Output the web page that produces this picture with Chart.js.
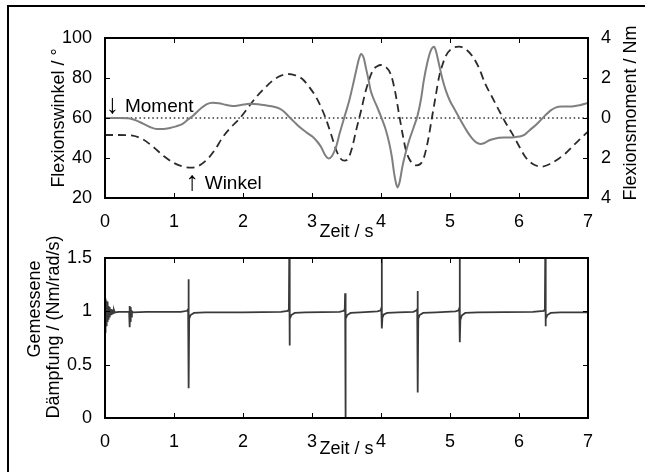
<!DOCTYPE html>
<html>
<head>
<meta charset="utf-8">
<script src="https://cdn.jsdelivr.net/npm/chart.js@4.4.1/dist/chart.umd.min.js"></script>
<style>
  html, body { margin: 0; padding: 0; background: #fff; overflow: hidden; }
  #wrap { position: relative; width: 645px; height: 472px; }
  #wrap canvas { position: absolute; left: 0; top: 0; }
  #frame {
    position: absolute; left: 7px; top: 5px; width: 640px; height: 480px;
    border-top: 2px solid #000; border-left: 2px solid #000;
  }
</style>
</head>
<body>
<div id="wrap">
  <div id="frame"></div>
  <canvas id="topChart" width="645" height="472"></canvas>
  <canvas id="bottomChart" width="645" height="472"></canvas>
</div>
<script>
// ---- data ----
const timeTicks = [0, 1, 2, 3, 4, 5, 6, 7];
const angleTicks = [20, 40, 60, 80, 100];
const momentTicks = [-4, -2, 0, 2, 4];
const momentTickLabels = ['4', '2', '0', '2', '4'];
const dampTicks = [0, 0.5, 1, 1.5];
const dampTickLabels = ['0', '0.5', '1', '1.5'];

// Flexionswinkel (dashed, left axis, degrees)
const angleTime = [0, 0.2, 0.4, 0.55, 0.7, 0.85, 1.0, 1.13, 1.25, 1.37, 1.5, 1.6, 1.71, 1.83, 1.95,
  2.07, 2.19, 2.31, 2.43, 2.55, 2.65, 2.76, 2.86, 2.96, 3.06, 3.13, 3.2, 3.28, 3.35, 3.42, 3.47,
  3.52, 3.58, 3.64, 3.71, 3.78, 3.88, 3.95, 4.0, 4.07, 4.14, 4.2, 4.26, 4.31, 4.36, 4.41, 4.46,
  4.51, 4.57, 4.62, 4.68, 4.74, 4.79, 4.84, 4.89, 4.94, 5.03, 5.13, 5.22, 5.32, 5.42, 5.51, 5.61,
  5.71, 5.8, 5.9, 6.0, 6.09, 6.2, 6.33, 6.45, 6.58, 6.68, 6.77, 6.88, 7.0];
const angleValue = [51.5, 51.5, 51.2, 49.3, 45.5, 41, 37.5, 35.7, 35.2, 36.3, 40, 44.5, 50.6, 55.5, 59.7,
  65, 70.4, 74.8, 78.7, 81.2, 82, 81.3, 79.5, 75.5, 70.4, 65.5, 59.7, 51.5, 44, 39.5, 38.7,
  39.5, 45, 53.9, 63.5, 73.7, 83.7, 86, 86.5, 85.5, 82, 74, 62.2, 52.5, 44, 39.5, 37.2,
  36.3, 37, 40, 48.5, 60.5, 70.5, 80.3, 86.5, 91.1, 94.8, 95.7, 94.6, 91.1, 85, 77.1, 70.5,
  63.8, 58, 52.3, 46, 40.6, 37, 35.7, 37, 39.8, 42.5, 45.6, 49.3, 53.2];

// Flexionsmoment (grey, right axis, Nm)
const momentTime = [0, 0.2, 0.36, 0.45, 0.55, 0.65, 0.75, 0.85, 0.94, 1.03, 1.13, 1.2, 1.28, 1.38, 1.47,
  1.56, 1.65, 1.75, 1.85, 1.97, 2.1, 2.22, 2.34, 2.45, 2.53, 2.6, 2.67, 2.75, 2.82, 2.92, 3.01,
  3.08, 3.13, 3.19, 3.24, 3.29, 3.35, 3.4, 3.47, 3.54, 3.6, 3.64, 3.68, 3.71, 3.75, 3.78, 3.82,
  3.85, 3.9, 3.95, 4.02, 4.07, 4.12, 4.16, 4.19, 4.22, 4.24, 4.27, 4.31, 4.36, 4.41, 4.47, 4.53,
  4.58, 4.62, 4.67, 4.72, 4.77, 4.8, 4.84, 4.89, 4.94, 5.0, 5.06, 5.12, 5.18, 5.25, 5.32, 5.38,
  5.44, 5.5, 5.58, 5.66, 5.78, 5.9, 6.0, 6.07, 6.15, 6.24, 6.31, 6.38, 6.46, 6.53, 6.62, 6.77,
  6.88, 7.0];
const momentValue = [0, 0, -0.02, -0.12, -0.28, -0.45, -0.55, -0.55, -0.5, -0.42, -0.28, -0.08, 0.13, 0.45, 0.68,
  0.76, 0.74, 0.66, 0.6, 0.65, 0.71, 0.69, 0.63, 0.56, 0.47, 0.3, 0.05, -0.22, -0.45, -0.72, -0.94,
  -1.2, -1.44, -1.85, -2.02, -1.9, -1.44, -0.78, 0.05, 0.88, 1.75, 2.37, 2.95, 3.2, 3.0, 2.53, 1.9,
  1.37, 0.9, 0.5, -0.11, -0.6, -1.27, -2.0, -2.76, -3.3, -3.47, -3.2, -2.43, -1.7, -1.1, -0.5, 0.13,
  0.95, 1.87, 2.75, 3.36, 3.56, 3.3, 2.7, 1.95, 1.37, 0.85, 0.47, 0.1, -0.28, -0.68, -1.02, -1.22,
  -1.3, -1.25, -1.1, -1.02, -0.98, -0.97, -0.93, -0.86, -0.62, -0.36, -0.12, 0.13, 0.38, 0.52, 0.57, 0.58,
  0.64, 0.75];

// dotted reference level (0 Nm = 60 deg)
const refTime = [0, 7];
const refLevel = [60, 60];

// Gemessene Daempfung (bottom panel)
const dampTime = [0, 0.004, 0.008, 0.012, 0.016, 0.02, 0.024, 0.028, 0.032, 0.036, 0.04, 0.044, 0.048,
  0.052, 0.056, 0.06, 0.064, 0.068, 0.072, 0.076, 0.08, 0.088, 0.096, 0.104, 0.112, 0.12, 0.13, 0.14,
  0.2, 0.3, 0.35, 0.355, 0.36, 0.365, 0.37, 0.375, 0.38, 0.39, 0.41, 0.6,
  1.1, 1.19, 1.205, 1.21, 1.214, 1.22, 1.24, 1.29, 1.45, 2.0, 2.55,
  2.65, 2.665, 2.67, 2.674, 2.68, 2.7, 2.75, 2.9, 3.4,
  3.46, 3.475, 3.48, 3.484, 3.49, 3.51, 3.56, 3.7, 3.95,
  3.995, 4.005, 4.01, 4.014, 4.02, 4.04, 4.09, 4.25, 4.47,
  4.515, 4.525, 4.53, 4.534, 4.54, 4.56, 4.61, 4.8, 5.08,
  5.125, 5.135, 5.14, 5.144, 5.15, 5.17, 5.22, 5.4, 6.2,
  6.36, 6.375, 6.38, 6.384, 6.39, 6.41, 6.46, 6.6, 7.0];
const dampValue = [1.0, 0.8, 1.12, 0.84, 1.1, 0.86, 1.08, 0.88, 1.09, 0.9, 1.06, 0.93, 1.05,
  0.94, 1.04, 0.95, 1.04, 0.96, 1.03, 0.97, 1.02, 0.975, 1.02, 0.98, 1.015, 0.985, 1.01, 0.99,
  0.995, 0.995, 0.995, 1.05, 0.85, 1.04, 0.9, 1.03, 0.95, 1.0, 0.99, 0.995,
  0.995, 1.005, 1.02, 1.3, 0.28, 0.93, 0.965, 0.985, 0.99, 0.99, 0.995,
  1.005, 1.02, 1.5, 0.68, 0.93, 0.965, 0.985, 0.99, 0.995,
  1.005, 1.02, 1.17, 0.0, 0.93, 0.965, 0.985, 0.99, 1.0,
  1.01, 1.03, 1.5, 0.84, 0.94, 0.97, 0.985, 0.99, 0.995,
  1.01, 1.02, 1.19, 0.24, 0.93, 0.965, 0.985, 0.99, 1.0,
  1.01, 1.03, 1.5, 0.71, 0.92, 0.96, 0.985, 0.99, 0.995,
  1.005, 1.02, 1.5, 0.86, 0.93, 0.965, 0.985, 0.99, 0.99];

const toPoints = (xs, ys) => xs.map((x, i) => ({ x: x, y: ys[i] }));

Chart.defaults.font.family = "'Liberation Sans', Arial, Helvetica, sans-serif";
Chart.defaults.color = '#000';

// MATLAB-like box with inward tick marks on all four sides
const boxPlugin = {
  id: 'matlabBox',
  afterDatasetsDraw(chart) {
    const { ctx, chartArea: { left, right, top, bottom }, scales } = chart;
    const len = 5;
    ctx.save();
    ctx.strokeStyle = '#000';
    ctx.lineWidth = 1;
    ctx.beginPath();
    scales.x.ticks.forEach(t => {
      const px = Math.round(scales.x.getPixelForValue(t.value)) + 0.5;
      ctx.moveTo(px, bottom); ctx.lineTo(px, bottom - len);
      ctx.moveTo(px, top); ctx.lineTo(px, top + len);
    });
    scales.y.ticks.forEach(t => {
      const py = Math.round(scales.y.getPixelForValue(t.value)) + 0.5;
      ctx.moveTo(left, py); ctx.lineTo(left + len, py);
    });
    const rightScale = scales.y2 || scales.y;
    rightScale.ticks.forEach(t => {
      const py = Math.round(rightScale.getPixelForValue(t.value)) + 0.5;
      ctx.moveTo(right, py); ctx.lineTo(right - len, py);
    });
    ctx.stroke();
    ctx.lineWidth = 2;
    ctx.strokeRect(left, top, right - left, bottom - top);
    ctx.restore();
  }
};

// free text: rotated axis labels and the arrow annotations
const textPlugin = {
  id: 'freeText',
  afterDraw(chart, args, opts) {
    const { ctx, scales } = chart;
    ctx.save();
    ctx.fillStyle = '#000';
    (opts.items || []).forEach(it => {
      ctx.font = (it.size || 18) + "px 'Liberation Sans', Arial, sans-serif";
      let x = it.x, y = it.y;
      if (it.dataX !== undefined) {
        x = scales.x.getPixelForValue(it.dataX);
        y = scales.y.getPixelForValue(it.dataY);
      }
      ctx.save();
      ctx.translate(x, y);
      ctx.rotate(it.rotate || 0);
      ctx.textAlign = it.align || 'center';
      ctx.textBaseline = it.baseline || 'middle';
      ctx.fillText(it.text, 0, 0);
      ctx.restore();
    });
    ctx.restore();
  }
};

const tickFont = { size: 18 };
const titleFont = { size: 18 };

new Chart(document.getElementById('topChart'), {
  type: 'line',
  data: {
    datasets: [
      {
        label: 'Flexionsmoment',
        data: toPoints(momentTime, momentValue),
        yAxisID: 'y2',
        borderColor: '#7f7f7f',
        borderWidth: 2,
        pointRadius: 0,
        cubicInterpolationMode: 'monotone',
        order: 1
      },
      {
        label: 'Flexionswinkel',
        data: toPoints(angleTime, angleValue),
        yAxisID: 'y',
        borderColor: '#2b2b2b',
        borderWidth: 1.8,
        borderDash: [8, 5],
        pointRadius: 0,
        cubicInterpolationMode: 'monotone',
        order: 2
      },
      {
        label: 'Nulllinie',
        data: toPoints(refTime, refLevel),
        yAxisID: 'y',
        borderColor: '#333',
        borderWidth: 1.3,
        borderDash: [1.5, 2.8],
        pointRadius: 0,
        order: 3
      }
    ]
  },
  options: {
    responsive: false,
    animation: false,
    devicePixelRatio: 1,
    layout: { padding: { top: 38, bottom: 229, left: 0, right: 0 } },
    plugins: {
      legend: { display: false },
      tooltip: { enabled: false },
      freeText: {
        items: [
          { text: '↓', dataX: 0.108, dataY: 62.3, align: 'center', baseline: 'alphabetic', size: 27 },
          { text: 'Moment', dataX: 0.289, dataY: 62.8, align: 'left', baseline: 'alphabetic', size: 19 },
          { text: '↑', dataX: 1.264, dataY: 24.0, align: 'center', baseline: 'alphabetic', size: 27 },
          { text: 'Winkel', dataX: 1.445, dataY: 24.6, align: 'left', baseline: 'alphabetic', size: 19 },
          { text: 'Flexionsmoment / Nm', x: 631, y: 113, rotate: -Math.PI / 2 }
        ]
      }
    },
    scales: {
      x: {
        type: 'linear', position: 'bottom', min: 0, max: 7,
        afterBuildTicks: s => { s.ticks = timeTicks.map(v => ({ value: v })); },
        afterFit: s => { s.height = 45; },
        ticks: { font: tickFont, padding: 5, autoSkip: false, maxRotation: 0, callback: v => String(v) },
        grid: { display: false }, border: { display: false },
        title: { display: true, text: 'Zeit / s', font: titleFont, padding: 0 }
      },
      y: {
        type: 'linear', position: 'left', min: 20, max: 100,
        afterBuildTicks: s => { s.ticks = angleTicks.map(v => ({ value: v })); },
        afterFit: s => { s.width = 105; },
        ticks: { font: tickFont, padding: 5, callback: v => String(v) },
        grid: { display: false }, border: { display: false },
        title: { display: true, text: 'Flexionswinkel / °', font: titleFont, padding: { top: 48, bottom: 0 } }
      },
      y2: {
        type: 'linear', position: 'right', min: -4, max: 4,
        afterBuildTicks: s => { s.ticks = momentTicks.map(v => ({ value: v })); },
        afterFit: s => { s.width = 57; },
        ticks: { font: tickFont, padding: 5, callback: v => momentTickLabels[momentTicks.indexOf(v)] },
        grid: { display: false }, border: { display: false }
      }
    }
  },
  plugins: [boxPlugin, textPlugin]
});

new Chart(document.getElementById('bottomChart'), {
  type: 'line',
  data: {
    datasets: [{
      label: 'Gemessene Dämpfung',
      data: toPoints(dampTime, dampValue),
      borderColor: '#3a3a3a',
      borderWidth: 1.8,
      pointRadius: 0,
      tension: 0
    }]
  },
  options: {
    responsive: false,
    animation: false,
    devicePixelRatio: 1,
    layout: { padding: { top: 258, bottom: 12, left: 0, right: 57 } },
    plugins: {
      legend: { display: false },
      tooltip: { enabled: false },
      freeText: {
        items: [
          { text: 'Gemessene', x: 35, y: 309, rotate: -Math.PI / 2 },
          { text: 'Dämpfung / (Nm/rad/s)', x: 54.5, y: 327, rotate: -Math.PI / 2 }
        ]
      }
    },
    scales: {
      x: {
        type: 'linear', position: 'bottom', min: 0, max: 7,
        afterBuildTicks: s => { s.ticks = timeTicks.map(v => ({ value: v })); },
        afterFit: s => { s.height = 42; },
        ticks: { font: tickFont, padding: 5, autoSkip: false, maxRotation: 0, callback: v => String(v) },
        grid: { display: false }, border: { display: false },
        title: { display: true, text: 'Zeit / s', font: titleFont, padding: 0 }
      },
      y: {
        type: 'linear', position: 'left', min: 0, max: 1.5,
        afterBuildTicks: s => { s.ticks = dampTicks.map(v => ({ value: v })); },
        afterFit: s => { s.width = 105; },
        ticks: { font: tickFont, padding: 5, callback: v => dampTickLabels[dampTicks.indexOf(v)] },
        grid: { display: false }, border: { display: false }
      }
    }
  },
  plugins: [boxPlugin, textPlugin]
});
</script>
</body>
</html>
